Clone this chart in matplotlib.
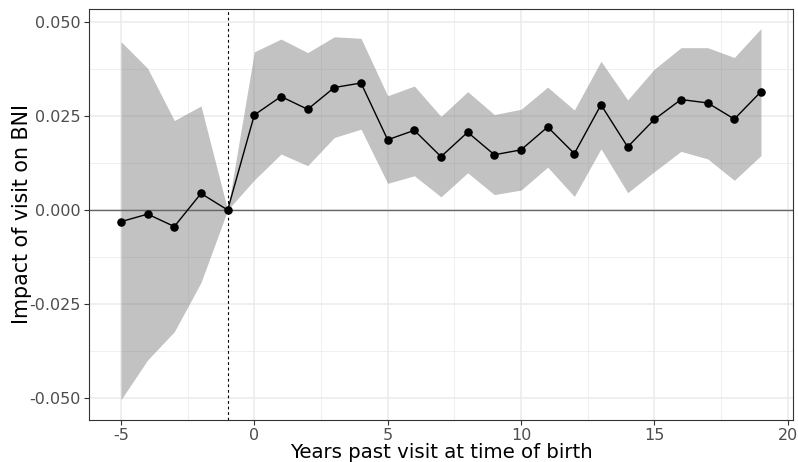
import matplotlib
matplotlib.use("Agg")
import matplotlib.pyplot as plt
import numpy as np

years = [-5, -4, -3, -2, -1, 0, 1, 2, 3, 4, 5, 6, 7, 8, 9, 10, 11, 12, 13, 14, 15, 16, 17, 18, 19]
estimate = [-0.0031, -0.0011, -0.0044, 0.0044, 0.0, 0.0253, 0.0302, 0.0268, 0.0326, 0.0338,
            0.0187, 0.0212, 0.0142, 0.0207, 0.0147, 0.0160, 0.0221, 0.0150, 0.0280, 0.0168,
            0.0241, 0.0294, 0.0285, 0.0242, 0.0315]
upper = [0.0448, 0.0377, 0.0238, 0.0277, 0.0, 0.0421, 0.0455, 0.0419, 0.0461, 0.0457,
         0.0304, 0.0330, 0.0249, 0.0315, 0.0254, 0.0268, 0.0327, 0.0266, 0.0396, 0.0293,
         0.0375, 0.0432, 0.0432, 0.0406, 0.0483]
lower = [-0.0505, -0.0399, -0.0324, -0.0193, 0.0, 0.0080, 0.0149, 0.0118, 0.0193, 0.0215,
         0.0071, 0.0091, 0.0035, 0.0099, 0.0041, 0.0053, 0.0114, 0.0036, 0.0163, 0.0046,
         0.0102, 0.0156, 0.0136, 0.0079, 0.0145]
xticks = [-5, 0, 5, 10, 15, 20]
yticks = [-0.050, -0.025, 0.000, 0.025, 0.050]
ytick_labels = ["-0.050", "-0.025", "0.000", "0.025", "0.050"]

fig = plt.figure(figsize=(7.98, 4.62), dpi=100)
ax = fig.add_axes([89/798, 42/462, (793-89)/798, (420-9)/462])

ax.set_xlim(-6.2, 20.2)
ax.set_ylim(-0.0559, 0.0535)

# grid
for xm in [-2.5, 2.5, 7.5, 12.5, 17.5]:
    ax.axvline(xm, color="#EBEBEB", lw=0.55, zorder=0)
for ym in [-0.0375, -0.0125, 0.0125, 0.0375]:
    ax.axhline(ym, color="#EBEBEB", lw=0.55, zorder=0)
for xm in xticks:
    ax.axvline(xm, color="#EBEBEB", lw=1.1, zorder=0)
for ym in yticks:
    ax.axhline(ym, color="#EBEBEB", lw=1.1, zorder=0)

ax.fill_between(years, lower, upper, color="#808080", alpha=0.48, lw=0, zorder=1)
ax.axhline(0, color="#666666", lw=1.0, zorder=2)
ax.axvline(-1, color="black", lw=0.8, ls=(0, (2.5, 2.5)), zorder=2)
ax.plot(years, estimate, color="black", lw=1.0, zorder=3)
ax.scatter(years, estimate, s=38, color="black", zorder=4, linewidths=0)

ax.set_xticks(xticks)
ax.set_xticklabels([str(v) for v in xticks])
ax.set_yticks(yticks)
ax.set_yticklabels(ytick_labels)
ax.tick_params(axis="both", labelsize=11.5, labelcolor="#4D4D4D", color="#333333",
               length=3.5, width=0.8, pad=2.5)
for s in ax.spines.values():
    s.set_color("#333333")
    s.set_linewidth(0.8)

ax.set_xlabel("Years past visit at time of birth", fontsize=14.2, labelpad=0)
ax.xaxis.set_label_coords(0.5, -0.057)
ax.xaxis.label.set_va("top")
ax.set_ylabel("Impact of visit on BNI", fontsize=14.8)
ax.yaxis.set_label_coords(-0.081, 0.5)

fig.savefig("out.png", dpi=100)
